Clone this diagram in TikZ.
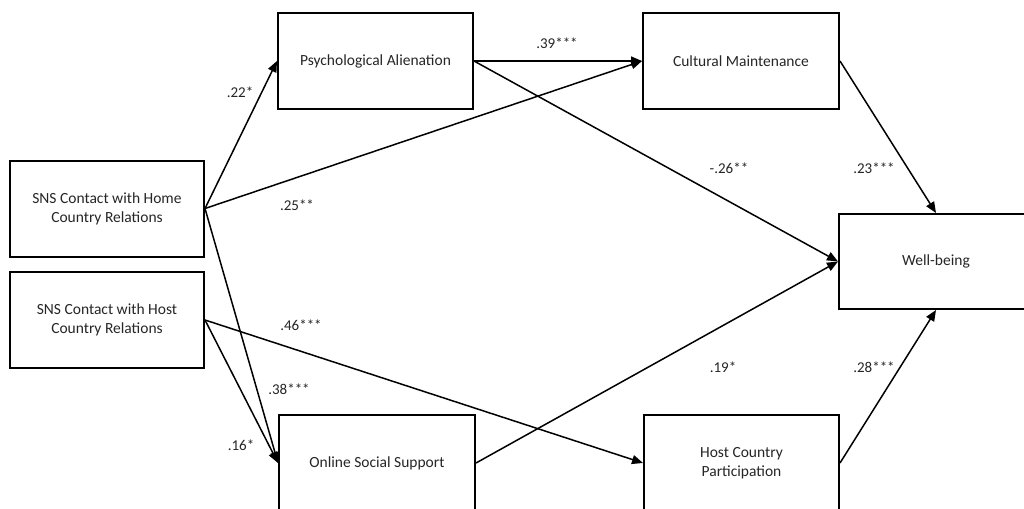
\documentclass[tikz,border=0pt]{standalone}
\usepackage{fontspec}
\setmainfont{Carlito}
\usetikzlibrary{arrows.meta}
\begin{document}
\begin{tikzpicture}[x=1pt,y=-1pt,
  box/.style={draw=black, line width=2pt, fill=white, minimum width=194pt, minimum height=96pt,
    align=center, inner sep=0pt, font=\fontsize{15.5}{19}\selectfont, text=black!85},
  conn/.style={line width=1.5pt, -{Triangle[length=11pt,width=9pt]}},
  lab/.style={inner sep=0pt, font=\fontsize{15}{18}\selectfont, text=black!85}]
\clip (0,0) rectangle (1024,508);
\fill[white] (0,0) rectangle (1024,508);
\node[box] (home) at (107,208.5) {SNS Contact with Home\\Country Relations};
\node[box] (host) at (107,320) {SNS Contact with Host\\Country Relations};
\node[box, minimum width=195pt] (psych) at (375.5,61) {Psychological Alienation};
\node[box, minimum width=196pt] (cult) at (741,61) {Cultural Maintenance};
\node[box, minimum height=95pt] (wb) at (936,261.5) {Well-being};
\node[box, minimum width=196pt] (oss) at (377,463) {Online Social Support};
\node[box, minimum width=195pt] (hcp) at (741.5,463) {Host Country\\Participation};

\draw[conn] (home.east) -- (psych.west);
\draw[conn] (home.east) -- (cult.west);
\draw[conn] (home.east) -- (oss.west);
\draw[conn] (host.east) -- (oss.west);
\draw[conn] (host.east) -- (hcp.west);
\draw[conn] (psych.east) -- (cult.west);
\draw[conn] (psych.east) -- (wb.west);
\draw[conn] (oss.east) -- (wb.west);
\draw[conn] (cult.east) -- (wb.north);
\draw[conn] (hcp.east) -- (wb.south);

\node[lab] (l22) at (240,92) {.22*};
\node[lab] (l39) at (557,43) {.39***};
\node[lab] (l25) at (297,205) {.25**};
\node[lab] (l26) at (729,168) {-.26**};
\node[lab] (l23) at (874,168) {.23***};
\node[lab] (l46) at (301,325) {.46***};
\node[lab] (l38) at (289,389) {.38***};
\node[lab] (l16) at (241,445) {.16*};
\node[lab] (l19) at (723,367) {.19*};
\node[lab] (l28) at (874,367) {.28***};
\end{tikzpicture}
\end{document}
